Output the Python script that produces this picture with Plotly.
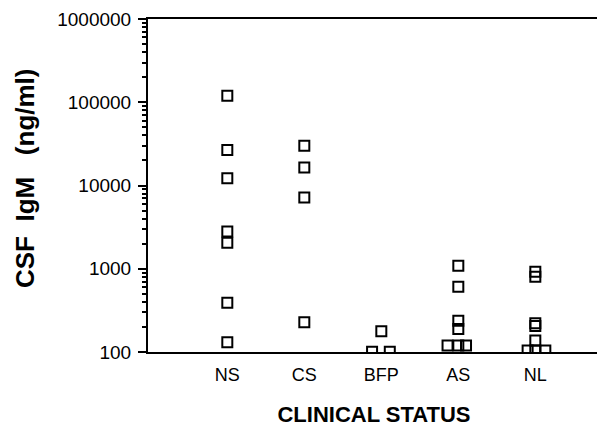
import plotly.graph_objects as go

# Categories and positions
categories = ["NS", "CS", "BFP", "AS", "NL"]
cat_pos = [1, 2, 3, 4, 5]

# CSF IgM values (ng/ml) per group, with small horizontal offsets (jitter) for overlapping points
ns_vals = [120000, 26700, 12200, 2800, 2050, 390, 131]
ns_jit = [0, 0, 0, 0, 0, 0, 0]
cs_vals = [30000, 16500, 7200, 227]
cs_jit = [0, 0, 0, 0]
bfp_vals = [178, 101, 101]
bfp_jit = [0, -0.12, 0.11]
as_vals = [1090, 608, 238, 189, 120, 120, 120]
as_jit = [0, 0, 0, 0, -0.14, 0, 0.1]
nl_vals = [920, 800, 222, 205, 137, 104, 104, 104]
nl_jit = [0, 0, 0, 0, 0, -0.1, 0, 0.13]

groups = [ns_vals, cs_vals, bfp_vals, as_vals, nl_vals]
jitters = [ns_jit, cs_jit, bfp_jit, as_jit, nl_jit]

ytick_vals = [100, 1000, 10000, 100000, 1000000]
ytick_text = ["100", "1000", "10000", "100000", "1000000"]
minor_vals = [m * d for d in [100, 1000, 10000, 100000] for m in range(2, 10)]

FONT = "Liberation Sans, Arial, Helvetica, sans-serif"
NB = "\u00a0"

fig = go.Figure()
for name, pos, vals, jit in zip(categories, cat_pos, groups, jitters):
    fig.add_trace(go.Scatter(
        x=[pos + j for j in jit],
        y=vals,
        mode="markers",
        name=name,
        marker=dict(symbol="square-open", size=10, color="black",
                    line=dict(width=2, color="black")),
        showlegend=False,
    ))

fig.update_layout(
    width=597, height=419,
    margin=dict(l=140, r=5, t=11, b=75),
    paper_bgcolor="white", plot_bgcolor="white",
    font=dict(family=FONT, color="black"),
)

fig.update_xaxes(
    range=[-0.03, 5.84],
    tickvals=cat_pos, ticktext=categories,
    tickfont=dict(size=18),
    ticks="", showgrid=False, zeroline=False,
    ticklabelstandoff=5,
    showline=True, linewidth=2, linecolor="black", mirror=True,
    title=dict(text="<b>CLINICAL STATUS</b>", font=dict(size=22), standoff=30),
    automargin=False,
)

ytitle = "<b>" + NB * 2 + "CSF" + NB * 2 + "IgM" + NB * 3 + "(ng/ml)</b>"

fig.update_yaxes(
    type="log", range=[2, 6],
    tickvals=ytick_vals, ticktext=ytick_text,
    tickfont=dict(size=19),
    ticks="outside", ticklen=8, tickwidth=2, tickcolor="black",
    ticklabelstandoff=3,
    minor=dict(tickmode="array", tickvals=minor_vals, ticks="outside", ticklen=4,
               tickwidth=1.5, tickcolor="black", showgrid=False),
    showgrid=False, zeroline=False,
    showline=True, linewidth=2, linecolor="black", mirror=False,
    title=dict(text=ytitle, font=dict(size=26), standoff=15),
    automargin=False,
)

fig.write_html("out.html")
